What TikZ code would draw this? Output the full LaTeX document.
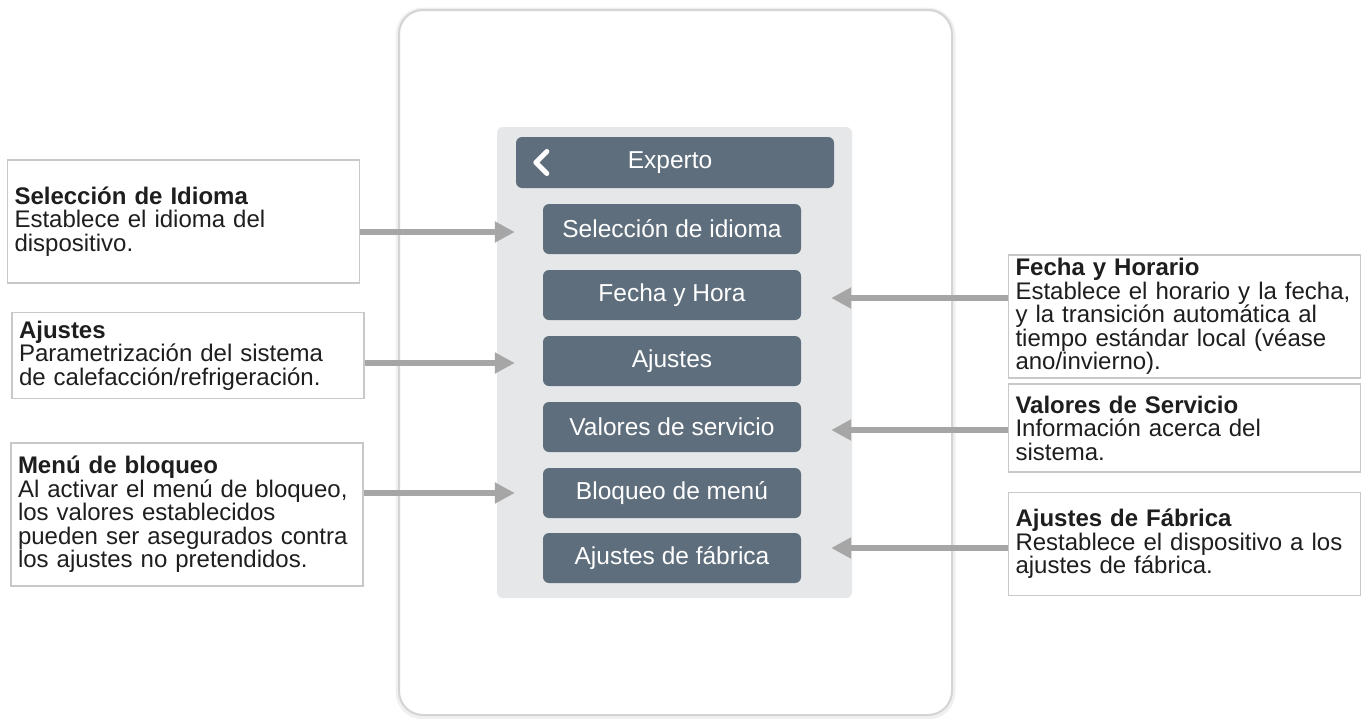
\documentclass[tikz,border=0pt]{standalone}
\usepackage{fontspec}
\setmainfont{Liberation Sans}
\usetikzlibrary{arrows.meta}

\definecolor{slate}{HTML}{5E6E7D}
\definecolor{panelgray}{HTML}{E6E7E9}
\definecolor{arrowgray}{HTML}{A6A6A6}
\definecolor{boxgray}{HTML}{C8C8C8}
\definecolor{framegray}{HTML}{D4D4D4}
\definecolor{textdark}{HTML}{1E1E1E}

\begin{document}
\begin{tikzpicture}[x=1pt, y=-1pt,
    menubtn/.style={fill=slate, rounded corners=6pt, minimum width=258pt, minimum height=50pt,
        inner sep=0pt, text=white, font=\fontsize{24.5}{28}\selectfont},
    infobox/.style={draw=boxgray, line width=1.5pt, fill=white, minimum width=352pt,
        text width=338pt, align=left, inner sep=0pt, text=textdark,
        font=\fontsize{24}{23.5}\selectfont},
    pointer/.style={arrowgray, line width=6pt, -{Triangle[length=20pt,width=20pt]}}]
    \useasboundingbox (0,0) rectangle (1370,718);

    % Draw the device frame and the screen
    \draw[black!6, line width=7pt, rounded corners=24pt] (399,11) rectangle (952,716);
    \draw[framegray, line width=2pt, rounded corners=24pt, fill=white] (399,10) rectangle (952,715);
    \fill[panelgray, rounded corners=6pt] (497,127) rectangle (852,598);

    % Draw the menu
    \node[menubtn, minimum width=318pt, minimum height=51pt] (hdr) at (675,162.5) {\hspace*{-10pt}Experto};
    \draw[white, line width=5pt, line cap=round, line join=round]
        ([xshift=31pt,yshift=11pt]hdr.west) -- ([xshift=20pt]hdr.west) -- ([xshift=31pt,yshift=-11pt]hdr.west);
    \node[menubtn] (idioma) at (672,229) {Selección de idioma};
    \node[menubtn] (fecha) at (672,295) {Fecha y Hora};
    \node[menubtn] (ajustes) at (672,361) {Ajustes};
    \node[menubtn] (servicio) at (672,427) {Valores de servicio};
    \node[menubtn] (bloqueo) at (672,493) {Bloqueo de menú};
    \node[menubtn] (fabrica) at (672,558) {Ajustes de fábrica};

    % Draw notes on the left
    \node[infobox, minimum height=123pt] (nIdioma) at (183.5,221.5)
        {\textbf{Selección de Idioma}\\Establece el idioma del\\dispositivo.};
    \node[infobox, minimum height=86pt] (nAjustes) at (188,355.5)
        {\textbf{Ajustes}\\Parametrización del sistema\\de calefacción/refrigeración.};
    \node[infobox, minimum height=143pt] (nBloqueo) at (187,514.5)
        {\textbf{Menú de bloqueo}\\Al activar el menú de bloqueo,\\los valores establecidos\\pueden ser asegurados contra\\los ajustes no pretendidos.};

    % Draw notes on the right
    \node[infobox, minimum height=123pt] (nFecha) at (1184.5,316.5)
        {\textbf{Fecha y Horario}\\Establece el horario y la fecha,\\y la transición automática al\\tiempo estándar local (véase\\ano/invierno).};
    \node[infobox, minimum height=88pt] (nServicio) at (1184.5,428)
        {\textbf{Valores de Servicio}\\Información acerca del\\sistema.};
    \node[infobox, minimum height=103pt] (nFabrica) at (1184.5,544)
        {\textbf{Ajustes de Fábrica}\\Restablece el dispositivo a los\\ajustes de fábrica.};

    % Draw pointers
    \draw[pointer, shorten >=28pt] ([yshift=-3pt]nIdioma.east |- idioma.west) -- ([yshift=-3pt]idioma.west);
    \draw[pointer, shorten >=28pt] ([yshift=-2pt]nAjustes.east |- ajustes.west) -- ([yshift=-2pt]ajustes.west);
    \draw[pointer, shorten >=28pt] (nBloqueo.east |- bloqueo.west) -- (bloqueo.west);
    \draw[pointer, shorten >=30pt] ([yshift=-3pt]nFecha.west |- fecha.east) -- ([yshift=-3pt]fecha.east);
    \draw[pointer, shorten >=30pt] ([yshift=-3pt]nServicio.west |- servicio.east) -- ([yshift=-3pt]servicio.east);
    \draw[pointer, shorten >=30pt] ([yshift=10pt]nFabrica.west |- fabrica.east) -- ([yshift=10pt]fabrica.east);
\end{tikzpicture}
\end{document}
